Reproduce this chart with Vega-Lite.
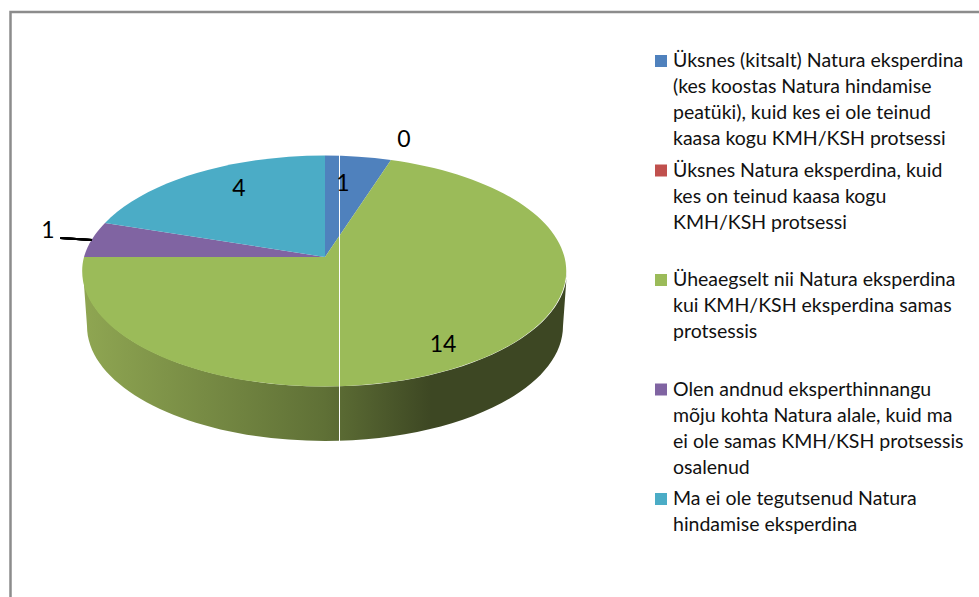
{
"$schema":"https://vega.github.io/schema/vega-lite/v6.json",
"width":980,"height":600,
"padding":{"left":10.5,"top":12,"right":0,"bottom":0},
"autosize":{"type":"none"},
"background":"white",
"config":{"view":{"stroke":"#8c8c8c","strokeWidth":2.5},"font":"Lato"},
"data":{"values":[
{"slice":"Üksnes (kitsalt) Natura eksperdina\n(kes koostas Natura hindamise\npeatüki), kuid kes ei ole teinud\nkaasa kogu KMH/KSH protsessi","value":1},
{"slice":"Üksnes Natura eksperdina, kuid\nkes on teinud kaasa kogu\nKMH/KSH protsessi","value":0},
{"slice":"Üheaegselt nii Natura eksperdina\nkui KMH/KSH eksperdina samas\nprotsessis","value":14},
{"slice":"Olen andnud eksperthinnangu\nmõju kohta Natura alale, kuid ma\nei ole samas KMH/KSH protsessis\nosalenud","value":1},
{"slice":"Ma ei ole tegutsenud Natura\nhindamise eksperdina","value":4}
]},
"resolve":{"scale":{"y":"independent"}},
"layer":[
{"layer":[
{"transform":[{"filter":"indexof(datum.slice,'Üheaegselt')==0"}],
 "mark":{"type":"point","filled":true,"opacity":1,"size":4,
  "shape":"M-242,0 A242,115.5 0 0 0 242,0 L238,55 A238,115 0 0 1 -238,55 Z",
  "fill":{"gradient":"linear","x1":0,"x2":1,"y1":0,"y2":0,"stops":[{"offset":0,"color":"#8fa652"},{"offset":0.5,"color":"#5f7036"},{"offset":0.72,"color":"#3d4723"},{"offset":1,"color":"#3d4723"}]}},
 "encoding":{"x":{"datum":314.5,"scale":{"domain":[0,980]},"axis":null},"y":{"datum":259,"scale":{"domain":[0,600],"reverse":true},"axis":null}}},
{"mark":{"type":"point","filled":true,"opacity":1,"size":4},
 "encoding":{
  "x":{"datum":314.5,"scale":{"domain":[0,980]},"axis":null},
  "y":{"datum":259,"scale":{"domain":[0,600],"reverse":true},"axis":null},
  "color":{"field":"slice","type":"nominal","sort":null,
    "scale":{"range":["#4F81BD","#C0504D","#9BBB59","#8064A2","#4BACC6"]},"legend":null},
  "shape":{"field":"slice","type":"nominal","sort":null,"legend":null,
    "scale":{"range":[
     "M0,-14 L0,-115.5 A242,115.5 0 0 1 66,-111 Z",
     "M0,-14 L0,-14 Z",
     "M0,-14 L66,-111 A242,115.5 0 1 1 -241,-14 Z",
     "M0,-14 L-241,-14 A242,115.5 0 0 1 -220,-48 Z",
     "M0,-14 L-220,-48 A242,115.5 0 0 1 0,-115.5 Z"]}}
 }},
{"mark":{"type":"rule","color":"#ffffff","strokeWidth":1,"opacity":0.75},
 "encoding":{"x":{"datum":329,"scale":{"domain":[0,980]},"axis":null},"y":{"datum":143,"scale":{"domain":[0,600],"reverse":true},"axis":null},"y2":{"datum":429}}},
{"mark":{"type":"rule","color":"#000000","strokeWidth":1.8},
 "encoding":{"x":{"datum":50,"scale":{"domain":[0,980]},"axis":null},"x2":{"datum":81.5},"y":{"datum":226,"scale":{"domain":[0,600],"reverse":true},"axis":null},"y2":{"datum":228}}},
{"transform":[{"filter":"indexof(datum.slice,'Üksnes (kitsalt)')==0"}],"mark":{"type":"text","font":"Lato","fontSize":23,"color":"#000000"},
 "encoding":{"text":{"field":"value"},"x":{"datum":332.5,"scale":{"domain":[0,980]},"axis":null},"y":{"datum":172,"scale":{"domain":[0,600],"reverse":true},"axis":null}}},
{"transform":[{"filter":"indexof(datum.slice,'Üksnes Natura')==0"}],"mark":{"type":"text","font":"Lato","fontSize":23,"color":"#000000"},
 "encoding":{"text":{"field":"value"},"x":{"datum":393.5,"scale":{"domain":[0,980]},"axis":null},"y":{"datum":128,"scale":{"domain":[0,600],"reverse":true},"axis":null}}},
{"transform":[{"filter":"indexof(datum.slice,'Üheaegselt')==0"}],"mark":{"type":"text","font":"Lato","fontSize":23,"color":"#000000"},
 "encoding":{"text":{"field":"value"},"x":{"datum":432.5,"scale":{"domain":[0,980]},"axis":null},"y":{"datum":333,"scale":{"domain":[0,600],"reverse":true},"axis":null}}},
{"transform":[{"filter":"indexof(datum.slice,'Olen')==0"}],"mark":{"type":"text","font":"Lato","fontSize":23,"color":"#000000"},
 "encoding":{"text":{"field":"value"},"x":{"datum":37.5,"scale":{"domain":[0,980]},"axis":null},"y":{"datum":219,"scale":{"domain":[0,600],"reverse":true},"axis":null}}},
{"transform":[{"filter":"indexof(datum.slice,'Ma ei')==0"}],"mark":{"type":"text","font":"Lato","fontSize":23,"color":"#000000"},
 "encoding":{"text":{"field":"value"},"x":{"datum":228.5,"scale":{"domain":[0,980]},"axis":null},"y":{"datum":177,"scale":{"domain":[0,600],"reverse":true},"axis":null}}}
]},
{"layer":[
{"mark":{"type":"square","size":144,"opacity":1},
 "encoding":{"x":{"datum":650.5,"scale":{"domain":[0,980]},"axis":null},
  "y":{"field":"slice","type":"nominal","sort":null,"axis":null,"scale":{"type":"point","padding":0,"range":[49,487]}},
  "color":{"field":"slice","type":"nominal","sort":null,"legend":null}}},
{"mark":{"type":"text","font":"Lato","fontSize":19.5,"align":"left","baseline":"top","lineBreak":"\n","lineHeight":26,"dy":-9,"color":"#111111"},
 "encoding":{"x":{"datum":662.5,"scale":{"domain":[0,980]},"axis":null},
  "y":{"field":"slice","type":"nominal","sort":null,"axis":null,"scale":{"type":"point","padding":0,"range":[49,487]}},
  "text":{"field":"slice"}}}
]}
]
}
